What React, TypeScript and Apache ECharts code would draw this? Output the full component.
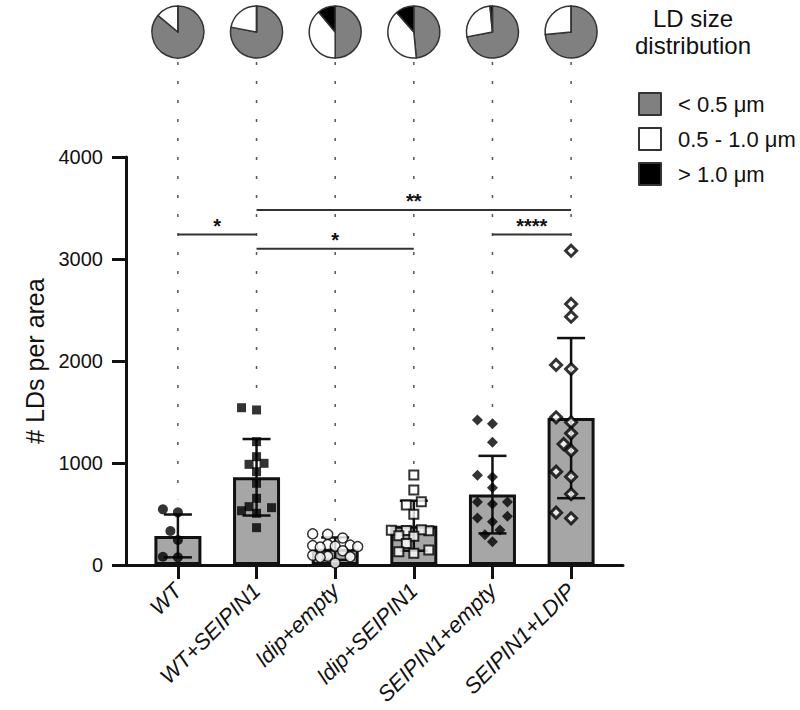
import React, { useEffect, useRef } from 'react';
import * as echarts from 'echarts';

// ---------- data ----------
const categories = ['WT', 'WT+SEIPIN1', 'ldip+empty', 'ldip+SEIPIN1', 'SEIPIN1+empty', 'SEIPIN1+LDIP'];
const means = [285, 860, 160, 385, 690, 1440];
const sds = [210, 375, 110, 245, 380, 785];

const pointsWT = [516, 546, 333, 245, 75, 81];
const pointsWTSeipin = [1542, 1520, 1209, 1062, 987, 997, 915, 801, 654, 572, 562, 532, 507, 366];
const pointsLdipEmpty = [305, 300, 265, 200, 195, 190, 185, 180, 175, 140, 95, 85, 80, 75, 20];
const pointsLdipSeipin = [882, 735, 588, 620, 497, 336, 340, 345, 338, 287, 283, 212, 147, 114, 130];
const pointsSeipinEmpty = [1421, 1385, 1203, 879, 863, 758, 618, 598, 618, 461, 425, 477, 343, 297, 228];
const pointsSeipinLdip = [3081, 2559, 2434, 1921, 1961, 1399, 1448, 1291, 1186, 1121, 915, 866, 696, 458, 513];
const groupPoints = [pointsWT, pointsWTSeipin, pointsLdipEmpty, pointsLdipSeipin, pointsSeipinEmpty, pointsSeipinLdip];

const sizeClasses = ['< 0.5 \u03bcm', '0.5 - 1.0 \u03bcm', '> 1.0 \u03bcm'];
const pieSmall = [0.86, 0.78, 0.5, 0.485, 0.72, 0.735];
const pieMedium = [0.14, 0.22, 0.39, 0.4, 0.265, 0.265];
const pieLarge = [0, 0, 0.11, 0.115, 0.015, 0];

// [from category, to category, y value]
const sigPairs = [
  [0, 1, 3240],
  [1, 5, 3480],
  [1, 3, 3100],
  [4, 5, 3240],
];
const sigLabels = ['*', '**', '*', '****'];

const yMin = 0;
const yMax = 4000;
const yInterval = 1000;
const legendTitle = 'LD size\ndistribution';
const yAxisName = '# LDs per area';

// ---------- layout / style ----------
const FONT = '"Liberation Sans", Arial, sans-serif';
const INK = '#111';
const GRID_LEFT = 126;
const GRID_TOP = 157;
const GRID_RIGHT_EDGE = 623;
const GRID_BOTTOM_EDGE = 565;
const GRID_W = GRID_RIGHT_EDGE - GRID_LEFT;
const GRID_H = GRID_BOTTOM_EDGE - GRID_TOP;
const X_MIN = -0.66;
const X_MAX = 5.66;
const PX_PER_CAT = GRID_W / (X_MAX - X_MIN);
const PX_PER_UNIT = GRID_H / (yMax - yMin);
const PIE_CY = 32;
const PIE_R = 26;
const DOT_TOP = PIE_CY + PIE_R + 4;

const sizeColors = ['#808080', '#ffffff', '#000000'];
const markerStyles = [
  { symbol: 'circle', symbolSize: 10, itemStyle: { color: '#000', borderColor: '#000', borderWidth: 0 } },
  { symbol: 'rect', symbolSize: 9, itemStyle: { color: '#000', borderColor: '#000', borderWidth: 0 } },
  { symbol: 'circle', symbolSize: 10, itemStyle: { color: '#fff', borderColor: '#000', borderWidth: 1.5 } },
  { symbol: 'rect', symbolSize: 9, itemStyle: { color: '#fff', borderColor: '#000', borderWidth: 2 } },
  { symbol: 'diamond', symbolSize: 11, itemStyle: { color: '#000', borderColor: '#000', borderWidth: 0 } },
  { symbol: 'diamond', symbolSize: 11, itemStyle: { color: '#fff', borderColor: '#000', borderWidth: 3 } },
];

// beeswarm-like horizontal spreading (pixel offsets), limited width
function swarmOffsets(values: number[], step = 7.5, dist = 10, maxOff = 22.5): number[] {
  const order = values.map((_, i) => i).sort((a, b) => values[a] - values[b]);
  const placed: { x: number; y: number }[] = [];
  const offs = new Array(values.length).fill(0);
  const cands: number[] = [0];
  for (let o = step; o <= maxOff + 0.01; o += step) cands.push(-o, o);
  for (const idx of order) {
    const y = values[idx] * PX_PER_UNIT;
    let best = 0;
    let bestD = -1;
    for (const o of cands) {
      const d = placed.length ? Math.min(...placed.map((p) => Math.hypot(p.x - o, p.y - y))) : Infinity;
      if (d >= dist) {
        best = o;
        break;
      }
      if (d > bestD) {
        bestD = d;
        best = o;
      }
    }
    offs[idx] = best;
    placed.push({ x: best, y });
  }
  return offs;
}

function buildOption() {
  const series: any[] = [];

  // dotted guide lines from pies down to data
  series.push({
    type: 'custom',
    z: 1,
    silent: true,
    encode: { x: 0, y: 1 },
    data: groupPoints.map((pts, i) => [i, Math.max(...pts)]),
    renderItem: (_p: any, api: any) => {
      const p = api.coord([api.value(0), api.value(1)]);
      return {
        type: 'line',
        shape: { x1: p[0], y1: DOT_TOP, x2: p[0], y2: p[1] - 10 },
        style: { stroke: '#555', lineWidth: 1.5, lineDash: [3, 16] },
      };
    },
  });

  // bars
  series.push({
    type: 'bar',
    z: 2,
    barWidth: 47,
    silent: true,
    data: means.map((m, i) => [i, m]),
    itemStyle: { color: '#a6a6a6', borderColor: INK, borderWidth: 3 },
  });

  // error bars (mean ± SD)
  series.push({
    type: 'custom',
    z: 3,
    silent: true,
    encode: { x: 0, y: 1 },
    data: means.map((m, i) => [i, m, sds[i]]),
    renderItem: (_p: any, api: any) => {
      const x = api.value(0);
      const m = api.value(1);
      const s = api.value(2);
      const top = api.coord([x, m + s]);
      const bot = api.coord([x, Math.max(0, m - s)]);
      const hw = 14;
      const style = { stroke: INK, lineWidth: 2.5 };
      return {
        type: 'group',
        children: [
          { type: 'line', shape: { x1: top[0], y1: top[1], x2: bot[0], y2: bot[1] }, style },
          { type: 'line', shape: { x1: top[0] - hw, y1: top[1], x2: top[0] + hw, y2: top[1] }, style },
          { type: 'line', shape: { x1: bot[0] - hw, y1: bot[1], x2: bot[0] + hw, y2: bot[1] }, style },
        ],
      };
    },
  });

  // individual points
  groupPoints.forEach((pts, i) => {
    const offs = swarmOffsets(pts);
    series.push({
      type: 'scatter',
      z: 4,
      silent: true,
      ...markerStyles[i],
      data: pts.map((v, k) => [i + offs[k] / PX_PER_CAT, v]),
    });
  });

  // significance brackets
  series.push({
    type: 'custom',
    z: 3,
    silent: true,
    encode: { x: 0, y: 1 },
    data: sigPairs.map((p, k) => [p[0], p[2], p[1], k]),
    renderItem: (_p: any, api: any) => {
      const a = api.coord([api.value(0), api.value(1)]);
      const b = api.coord([api.value(2), api.value(1)]);
      const label = sigLabels[api.value(3)];
      return {
        type: 'group',
        children: [
          { type: 'line', shape: { x1: a[0], y1: a[1], x2: b[0], y2: b[1] }, style: { stroke: '#333', lineWidth: 2 } },
          {
            type: 'text',
            x: (a[0] + b[0]) / 2,
            y: a[1] - 9,
            style: { text: label, fill: INK, fontSize: 20, fontWeight: 'bold', fontFamily: FONT, align: 'center', verticalAlign: 'middle' },
          },
        ],
      };
    },
  });

  // pies
  categories.forEach((_, i) => {
    series.push({
      type: 'pie',
      silent: true,
      center: [GRID_LEFT + (i - X_MIN) * PX_PER_CAT, PIE_CY],
      radius: PIE_R,
      startAngle: 90,
      clockwise: true,
      label: { show: false },
      labelLine: { show: false },
      emphasis: { disabled: true },
      itemStyle: { borderColor: '#333', borderWidth: 1.5 },
      data: sizeClasses.map((name, k) => ({
        name,
        value: [pieSmall, pieMedium, pieLarge][k][i],
        itemStyle: { color: sizeColors[k] },
      })),
    });
  });

  return {
    animation: false,
    textStyle: { fontFamily: FONT },
    title: {
      text: legendTitle,
      left: 688,
      top: 0,
      textAlign: 'center',
      textStyle: { fontSize: 24, fontWeight: 'normal', lineHeight: 27, color: INK, fontFamily: FONT },
    },
    legend: {
      data: sizeClasses,
      orient: 'vertical',
      left: 638,
      top: 92,
      padding: 0,
      itemWidth: 22,
      itemHeight: 22,
      itemGap: 11,
      icon: 'rect',
      selectedMode: false,
      itemStyle: { borderColor: '#333', borderWidth: 2 },
      textStyle: { fontSize: 22, color: INK, fontFamily: FONT, padding: [0, 0, 0, 12] },
    },
    grid: { left: GRID_LEFT, top: GRID_TOP, width: GRID_W, height: GRID_H, containLabel: false },
    xAxis: {
      type: 'value',
      min: X_MIN,
      max: X_MAX,
      splitLine: { show: false },
      axisLine: { show: true, onZero: false, lineStyle: { color: INK, width: 3 } },
      axisTick: { show: true, customValues: [0, 1, 2, 3, 4, 5], length: 14, lineStyle: { color: INK, width: 3 } },
      axisLabel: {
        customValues: [0, 1, 2, 3, 4, 5],
        formatter: (v: number) => categories[Math.round(v)] ?? '',
        rotate: 45,
        fontStyle: 'italic',
        fontSize: 22,
        margin: 22,
        color: INK,
        fontFamily: FONT,
      },
    },
    yAxis: {
      type: 'value',
      min: yMin,
      max: yMax,
      interval: yInterval,
      name: yAxisName,
      nameLocation: 'middle',
      nameRotate: 90,
      nameGap: 68,
      nameTextStyle: { fontSize: 25, color: INK, fontFamily: FONT },
      splitLine: { show: false },
      axisLine: { show: true, onZero: false, lineStyle: { color: INK, width: 3 } },
      axisTick: { show: true, length: 14, lineStyle: { color: INK, width: 3 } },
      axisLabel: { fontSize: 20, margin: 23, color: INK, fontFamily: FONT, formatter: (v: number) => String(v) },
    },
    series,
  };
}

export default function App() {
  const ref = useRef<HTMLDivElement>(null);
  useEffect(() => {
    if (!ref.current) return;
    const chart = echarts.init(ref.current, undefined, { renderer: 'svg' });
    chart.setOption(buildOption() as any);
    return () => chart.dispose();
  }, []);
  return (
    <div
      ref={ref}
      style={{ position: 'absolute', left: 0, top: 0, width: 800, height: 710, background: '#fff' }}
    />
  );
}
